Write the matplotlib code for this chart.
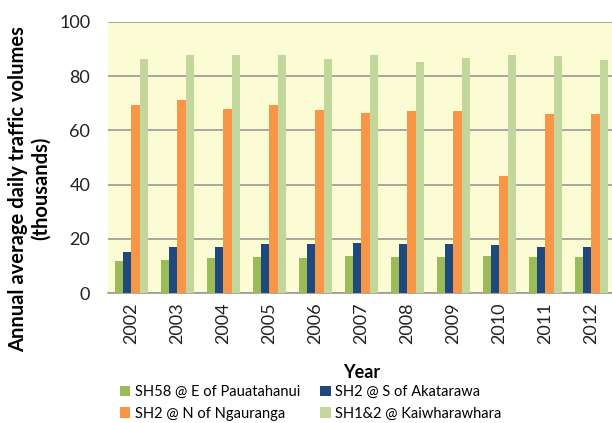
import numpy as np
import matplotlib
matplotlib.use('Agg')
import matplotlib.pyplot as plt

plt.rcParams['font.family'] = ['Lato', 'DejaVu Sans']

years = ['2002', '2003', '2004', '2005', '2006', '2007', '2008', '2009', '2010', '2011', '2012']
series_names = ['SH58 @ E of Pauatahanui', 'SH2 @ S of Akatarawa',
                'SH2 @ N of Ngauranga', 'SH1&2 @ Kaiwharawhara']
sh58 = [11.8, 12.3, 12.9, 13.4, 12.9, 13.8, 13.3, 13.3, 13.8, 13.3, 13.3]
sh2_akatarawa = [15.3, 17.1, 17.1, 18.1, 18.1, 18.6, 18.1, 18.1, 17.6, 17.1, 17.1]
sh2_ngauranga = [69.3, 71.3, 67.9, 69.3, 67.4, 66.5, 67.0, 67.0, 43.3, 66.0, 66.0]
sh1_2 = [86.3, 87.8, 87.8, 87.8, 86.3, 87.8, 85.4, 86.8, 87.8, 87.3, 85.9]
colors = ['#9BBB59', '#1F497D', '#F79646', '#C3D69B']

fig = plt.figure(figsize=(6.12, 4.23), dpi=100)
ax = fig.add_axes([0.177, 0.307, 0.827, 0.641])
ax.set_facecolor('#FCFCD4')

x = np.arange(len(years))
w = 0.18
all_series = [sh58, sh2_akatarawa, sh2_ngauranga, sh1_2]
bars = []
for i, (vals, name, c) in enumerate(zip(all_series, series_names, colors)):
    bars.append(ax.bar(x + (i - 1.5) * w, vals, w, color=c, label=name, zorder=3))

ax.set_xlim(-0.5, len(years) - 0.5)
ax.set_ylim(0, 100)
ax.set_yticks(range(0, 101, 20))
ax.yaxis.grid(True, color='#9A9A9A', linewidth=1.2, zorder=0)
for s in ['top', 'right', 'left']:
    ax.spines[s].set_visible(False)
ax.spines['bottom'].set_color('#9A9A9A')
ax.spines['bottom'].set_linewidth(1.2)
ax.tick_params(axis='both', length=0, labelsize=13, labelcolor='#222222')
ax.tick_params(axis='y', pad=13)
ax.tick_params(axis='x', pad=7)
ax.set_xticks(x)
ax.set_xticklabels(years, rotation=90)

ax.set_xlabel('Year', fontsize=13, fontweight='bold', labelpad=14)
ax.set_ylabel('Annual average daily traffic volumes\n(thousands)', fontsize=14.5,
              fontweight='bold')
ax.yaxis.set_label_coords(-0.113, 0.385)

# legend filled row by row like the original
order = [0, 2, 1, 3]
fig.legend([bars[i] for i in order], [series_names[i] for i in order],
           loc='upper left', bbox_to_anchor=(0.196, 0.089), ncol=2, frameon=False,
           fontsize=10.5, handlelength=0.7, handleheight=0.7, handletextpad=0.3,
           columnspacing=1.4, labelspacing=0.5, borderaxespad=0, borderpad=0)

fig.savefig('out.png', dpi=100)
